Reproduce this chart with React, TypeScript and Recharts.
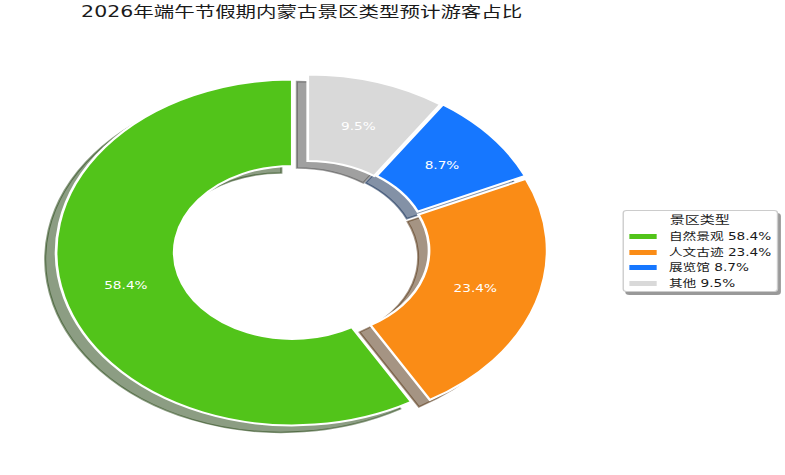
import { PieChart, Pie, Cell } from 'recharts';

// scenic area categories and their projected share of visitors (%)
const categories = ['自然景观', '人文古迹', '展览馆', '其他'];
const shares = [58.4, 23.4, 8.7, 9.5];
const colors = ['#52c41a', '#fa8c16', '#1677ff', '#d9d9d9'];
const explode = [0.064, 0.018, 0.018, 0.012];

const chartTitle = '2026年端午节假期内蒙古景区类型预计游客占比';
const legendTitle = '景区类型';

// the picture is stretched horizontally, so draw narrow and scale up
const W = 575;
const H = 475;
const SX = 785 / W;
const CX = 224.8;
const CY = 249.5;
const R = 173;
const R_IN = 86.5;
const SHADOW_DX = -8;
const SHADOW_DY = 7;
const FONT = '"DejaVu Sans", "Noto Sans CJK SC", sans-serif';

const data = categories.map((name, i) => ({ name, value: shares[i] }));
const total = shares.reduce((a, b) => a + b, 0);

const shade = (hex: string) => {
  const n = parseInt(hex.slice(1), 16);
  const r = Math.round(((n >> 16) & 255) * 0.3);
  const g = Math.round(((n >> 8) & 255) * 0.3);
  const b = Math.round((n & 255) * 0.3);
  return `rgb(${r},${g},${b})`;
};

// centre of each exploded wedge, from its mid angle
const centres = shares.map((v, i) => {
  const before = shares.slice(0, i).reduce((a, b) => a + b, 0);
  const mid = ((90 + (360 * (before + v / 2)) / total) * Math.PI) / 180;
  return {
    x: CX + explode[i] * R * Math.cos(mid),
    y: CY - explode[i] * R * Math.sin(mid),
  };
});

const RADIAN = Math.PI / 180;

const pctLabel = (only: number) => (props: any) => {
  if (props.index !== only) return null;
  const r = R * 0.73;
  const x = props.cx + r * Math.cos(-props.midAngle * RADIAN);
  const y = props.cy + r * Math.sin(-props.midAngle * RADIAN);
  return (
    <text
      x={x}
      y={y}
      fill="#ffffff"
      fontSize={10}
      fontFamily={FONT}
      textAnchor="middle"
      dominantBaseline="central"
    >
      {`${shares[only].toFixed(1)}%`}
    </text>
  );
};

export default function App() {
  return (
    <div
      style={{
        position: 'absolute',
        left: 0,
        top: 0,
        width: W,
        height: H,
        transform: `scaleX(${SX})`,
        transformOrigin: '0 0',
        background: '#ffffff',
        fontFamily: FONT,
      }}
    >
      <div
        style={{
          position: 'absolute',
          left: 21,
          top: 4,
          width: 400,
          textAlign: 'center',
          fontSize: 15,
          lineHeight: '16px',
          color: '#1a1a1a',
          whiteSpace: 'nowrap',
        }}
      >
        {chartTitle}
      </div>

      <PieChart
        width={W}
        height={H}
        margin={{ top: 0, right: 0, bottom: 0, left: 0 }}
        style={{ position: 'absolute', left: 0, top: 0 }}
      >
        {/* shadows first, below every wedge */}
        {categories.map((c, i) => (
          <Pie
            key={`shadow-${c}`}
            data={data}
            dataKey="value"
            nameKey="name"
            cx={centres[i].x + SHADOW_DX}
            cy={centres[i].y + SHADOW_DY}
            outerRadius={R}
            innerRadius={R_IN}
            startAngle={90}
            endAngle={450}
            isAnimationActive={false}
            labelLine={false}
          >
            {data.map((d, j) => (
              <Cell
                key={d.name}
                fill={j === i ? shade(colors[i]) : 'none'}
                fillOpacity={0.5}
                stroke={j === i ? shade(colors[i]) : 'none'}
                strokeOpacity={0.5}
                strokeWidth={1.5}
              />
            ))}
          </Pie>
        ))}
        {categories.map((c, i) => (
          <Pie
            key={`wedge-${c}`}
            data={data}
            dataKey="value"
            nameKey="name"
            cx={centres[i].x}
            cy={centres[i].y}
            outerRadius={R}
            innerRadius={R_IN}
            startAngle={90}
            endAngle={450}
            isAnimationActive={false}
            labelLine={false}
            label={pctLabel(i)}
          >
            {data.map((d, j) => (
              <Cell
                key={d.name}
                fill={j === i ? colors[i] : 'none'}
                stroke={j === i ? '#ffffff' : 'none'}
                strokeWidth={2}
              />
            ))}
          </Pie>
        ))}
      </PieChart>

      <div
        style={{
          position: 'absolute',
          left: 455.6,
          top: 210,
          width: 114,
          height: 82,
          boxSizing: 'border-box',
          border: '1px solid #cccccc',
          borderRadius: 3,
          background: '#ffffff',
          boxShadow: '2px 3px 0 rgba(0,0,0,0.4)',
          fontSize: 10,
          color: '#1a1a1a',
          paddingTop: 1.5,
        }}
      >
        <div
          style={{
            textAlign: 'center',
            fontSize: 11,
            lineHeight: '15.5px',
            marginBottom: 1,
            whiteSpace: 'nowrap',
          }}
        >
          {legendTitle}
        </div>
        {categories.map((c, i) => (
          <div
            key={c}
            style={{
              display: 'flex',
              alignItems: 'center',
              lineHeight: '15.5px',
              paddingLeft: 4,
              whiteSpace: 'nowrap',
            }}
          >
            <span
              style={{
                display: 'inline-block',
                width: 20,
                height: 5,
                background: colors[i],
                marginRight: 9.4,
              }}
            />
            <span>{`${c} ${shares[i].toFixed(1)}%`}</span>
          </div>
        ))}
      </div>
    </div>
  );
}
